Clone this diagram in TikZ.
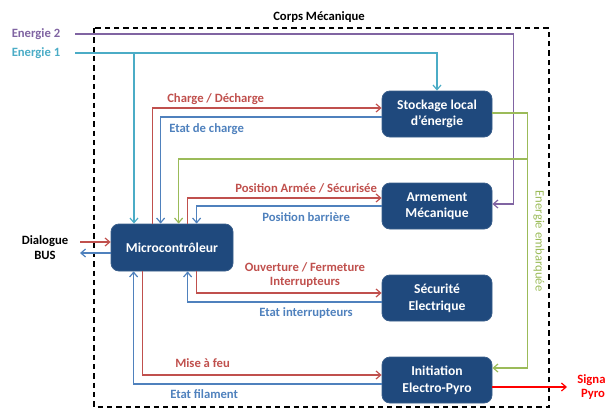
\documentclass[tikz,border=0pt]{standalone}
\usepackage{fontspec}
\setmainfont{Carlito}
\usetikzlibrary{positioning, arrows.meta, calc}
\definecolor{blocblue}{HTML}{1F497D}
\definecolor{blocedge}{HTML}{385D8A}
\definecolor{cmdred}{HTML}{C0504D}
\definecolor{etatblue}{HTML}{4F81BD}
\definecolor{nrjcyan}{HTML}{4BACC6}
\definecolor{nrjpurple}{HTML}{8064A2}
\definecolor{nrjgreen}{HTML}{9BBB59}
\tikzset{
    bloc/.style={draw=blocedge, line width=0.6pt, fill=blocblue, rounded corners=6pt, text=white, align=center, font=\bfseries\fontsize{10.2}{12.5}\selectfont, minimum width=82.5pt, minimum height=34.5pt},
    flow/.style={line width=0.9pt, -{Straight Barb[length=3.5pt,width=6pt]}},
    lbl/.style={font=\bfseries\fontsize{9.5}{11}\selectfont, inner sep=0pt, align=center},
    enveloppe/.style={line width=0.8pt, dash pattern=on 4pt off 3pt}
}

\begin{document}
\begin{tikzpicture}[x=0.75pt, y=-0.75pt]
    \useasboundingbox (0,0) rectangle (606,410);

    % --- Corps mecanique ---
    \draw[enveloppe] (94,28) rectangle (549,407);
    \node (corps) [lbl] at (319,17) {Corps Mécanique};

    % --- Blocs ---
    \node (micro) [bloc, minimum width=91.5pt, minimum height=35.25pt] at (172,247.5) {Microcontrôleur};
    \node (stock) [bloc] at (437,114) {Stockage local\\d’énergie};
    \node (arm) [bloc] at (437,206) {Armement\\Mécanique};
    \node (secu) [bloc] at (437,298) {Sécurité\\Electrique};
    \node (init) [bloc] at (437,380) {Initiation\\Electro-Pyro};

    % --- Entrees / sorties ---
    \node (nrj2) [lbl, text=nrjpurple] at (36,34) {Energie 2};
    \node (nrj1) [lbl, text=nrjcyan] at (36,53) {Energie 1};
    \node (bus) [lbl] at (45,247.5) {Dialogue\\BUS};
    \node (pyro) [lbl, text=red] at (593,387) {Signal\\Pyro};
    \coordinate (e2) at (75,34);
    \coordinate (e1) at (75,53);
    \coordinate (e1b) at (134,53);
    \coordinate (busin) at (80,242);
    \coordinate (busout) at (80,253);
    \coordinate (sig) at (567,387);
    \coordinate (vert) at (527,159);

    % --- Energies ---
    \draw[flow, nrjpurple] (e2) -| ($(arm.east)+(21,-2)$) -- ($(arm.east)+(0,-2)$);
    \draw[flow, nrjcyan] (e1) -| (stock.north);
    \draw[flow, nrjcyan] (e1b) -- (e1b |- micro.north);
    \draw[flow, nrjgreen] ($(stock.east)+(0,-1)$) -| ($(init.east)+(35,-12)$) -- ($(init.east)+(0,-12)$);
    \draw[flow, nrjgreen] (vert) -| ($(micro.north west)+(68,0)$);
    \node (embarq) [lbl, text=nrjgreen, rotate=-90, font=\fontsize{9.5}{11}\selectfont] at (539,241) {Energie embarquée};

    % --- Stockage ---
    \draw[flow, cmdred] ($(micro.north west)+(42,0)$) |- ($(stock.west)+(0,-6)$);
    \node (charge) [lbl, text=cmdred, anchor=west] at (167,99) {Charge / Décharge};
    \draw[flow, etatblue] ($(stock.west)+(0,3)$) -| ($(micro.north west)+(50,0)$);
    \node (etatch) [lbl, text=etatblue, anchor=west] at (169,129) {Etat de charge};

    % --- Armement ---
    \draw[flow, cmdred] ($(micro.north west)+(77,0)$) |- ($(arm.west)+(0,-8)$);
    \node (posarm) [lbl, text=cmdred, anchor=west] at (235,188) {Position Armée / Sécurisée};
    \draw[flow, etatblue] (arm.west) -| ($(micro.north west)+(86,0)$);
    \node (posbar) [lbl, text=etatblue, anchor=west] at (262,217) {Position barrière};

    % --- Securite ---
    \draw[flow, cmdred] ($(micro.south west)+(86,0)$) |- ($(secu.west)+(0,-5)$);
    \node (ouvfer) [lbl, text=cmdred] at (305,275) {Ouverture / Fermeture\\Interrupteurs};
    \draw[flow, etatblue] ($(secu.west)+(0,4)$) -| ($(micro.south west)+(77,0)$);
    \node (etatint) [lbl, text=etatblue, anchor=west] at (259,313) {Etat interrupteurs};

    % --- Initiation ---
    \draw[flow, cmdred] ($(micro.south west)+(32,0)$) |- ($(init.west)+(0,-5)$);
    \node (feu) [lbl, text=cmdred, anchor=west] at (175,363) {Mise à feu};
    \draw[flow, etatblue] ($(init.west)+(0,4)$) -| ($(micro.south west)+(23,0)$);
    \node (etatfil) [lbl, text=etatblue, anchor=west] at (170,394) {Etat filament};

    % --- Bus et signal ---
    \draw[flow, cmdred] (busin) -- (busin -| micro.west);
    \draw[flow, etatblue] (busout -| micro.west) -- (busout);
    \draw[flow, red] ($(init.east)+(0,7)$) -- (sig);
\end{tikzpicture}
\end{document}
